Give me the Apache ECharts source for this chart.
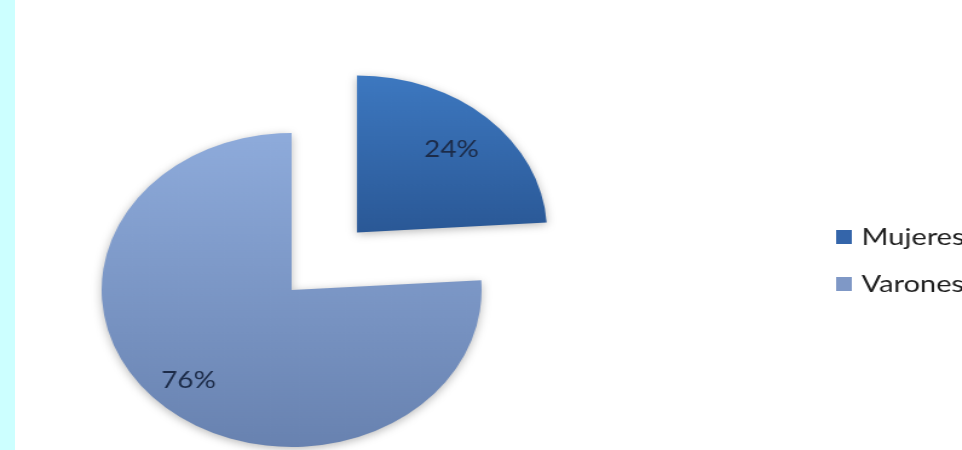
<!DOCTYPE html>
<html>
<head>
<meta charset="utf-8">
<script src="https://cdn.jsdelivr.net/npm/echarts@6/dist/echarts.min.js"></script>
<style>
  html, body { margin: 0; padding: 0; background: #ffffff; overflow: hidden; }
  #strip { position: absolute; left: 0; top: 0; width: 15px; height: 450px; background: #ccffff; z-index: 2; }
  #wrap { position: absolute; left: 0; top: 0; width: 962px; height: 450px; overflow: hidden; }
  /* the chart is drawn narrower and widened, giving the oval pie */
  #chart { width: 795px; height: 450px; transform: scaleX(1.21); transform-origin: 0 0; }
</style>
</head>
<body>
<div id="wrap"><div id="chart"></div></div>
<div id="strip"></div>
<script>
// Graduates by sex (percent)
const categories = ['Mujeres', 'Varones'];
const shares = [24, 76];
const topColors = ['#3d78c0', '#8eabdb'];
const bottomColors = ['#2a5896', '#6882b0'];
const legendColors = ['#3465aa', '#7f98c6'];

const fontFamily = 'Lato, "Open Sans", sans-serif';

function grad(i) {
  return new echarts.graphic.LinearGradient(0, 0, 0, 1, [
    { offset: 0, color: topColors[i] },
    { offset: 1, color: bottomColors[i] }
  ]);
}

const sliceData = categories.map((name, i) => ({
  name,
  value: shares[i],
  selected: i === 0,
  itemStyle: { color: grad(i) }
}));

// transparent ring carrying the percentage text of one slice
function labelRing(index, ring) {
  return {
    type: 'pie',
    center: [241, 290],
    radius: ring,
    startAngle: 90,
    clockwise: true,
    selectedMode: 'single',
    selectedOffset: 79,
    silent: true,
    itemStyle: { color: 'rgba(0,0,0,0)' },
    labelLine: { show: false },
    label: {
      position: 'inside',
      formatter: '{c}%',
      fontFamily,
      fontSize: 23,
      color: '#1c2b48'
    },
    data: categories.map((name, i) => ({
      name,
      value: shares[i],
      selected: i === 0,
      label: { show: i === index }
    }))
  };
}

const chart = echarts.init(document.getElementById('chart'), null, { renderer: 'canvas' });
chart.setOption({
  animation: false,
  backgroundColor: 'transparent',
  legend: {
    orient: 'vertical',
    left: 691,
    top: 225,
    padding: 0,
    itemWidth: 13,
    itemHeight: 14,
    itemGap: 23,
    icon: 'rect',
    textStyle: { fontFamily, fontSize: 24, color: '#1e1e1e', padding: [0, 0, 0, 3] },
    data: categories.map((name, i) => ({ name, itemStyle: { color: legendColors[i] } }))
  },
  series: [
    {
      type: 'pie',
      center: [241, 290],
      radius: [0, 157],
      startAngle: 90,
      clockwise: true,
      selectedMode: 'single',
      selectedOffset: 79,
      silent: true,
      label: { show: false },
      labelLine: { show: false },
      itemStyle: {
        shadowBlur: 8,
        shadowColor: 'rgba(0,0,0,0.28)',
        shadowOffsetY: 2
      },
      data: sliceData
    },
    labelRing(0, [64, 158]),
    labelRing(1, [83, 160])
  ]
});
</script>
</body>
</html>
